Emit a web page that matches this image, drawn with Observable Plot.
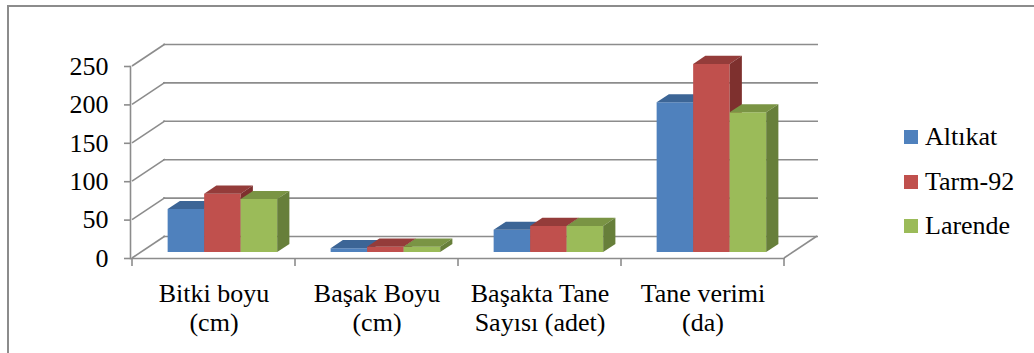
<!DOCTYPE html>
<html>
<head>
<meta charset="utf-8">
<script src="https://cdn.jsdelivr.net/npm/d3@7"></script>
<script src="https://cdn.jsdelivr.net/npm/@observablehq/plot@0.6"></script>
<style>
  html, body { margin: 0; padding: 0; background: #fff; width: 1034px; height: 353px; overflow: hidden; }
  #wrap { position: relative; width: 1034px; height: 353px; }
  #border { position: absolute; left: 7px; top: 5px; width: 2000px; height: 2000px;
            border-left: 2px solid #8c8c8c; border-top: 2px solid #8c8c8c; }
  #chart { position: absolute; left: 0; top: 0; }
  .legend { position: absolute; left: 904px; top: 0; font-family: "Liberation Serif", "Times New Roman", Times, "DejaVu Serif", serif;
            font-size: 26px; color: #000; }
  .legend .row { position: absolute; left: 0; height: 30px; display: flex; align-items: center; white-space: nowrap; }
  .legend .sw { width: 14px; height: 14px; margin-right: 7px; flex: none; }
</style>
</head>
<body>
<div id="wrap">
  <div id="border"></div>
  <div id="chart"></div>
  <div class="legend" id="legend"></div>
</div>
<script>
// ---- data ----
const categories = ["Bitki boyu\n(cm)", "Başak Boyu\n(cm)", "Başakta Tane\nSayısı (adet)", "Tane verimi\n(da)"];
const seriesNames = ["Altıkat", "Tarm-92", "Larende"];
const altikat = [56, 5, 29, 195];
const tarm92 = [76, 7, 34, 245];
const larende = [69, 7, 34, 182];
const yTicks = [0, 50, 100, 150, 200, 250];

// ---- styles ----
const palette = [
  {front: "#4F81BD", top: "#3C6596", side: "#385D8A"},
  {front: "#C0504D", top: "#943C3A", side: "#7E302E"},
  {front: "#9BBB59", top: "#7A9444", side: "#677F3A"}
];
const gridColor = "#8c8c8c";
const font = "'Liberation Serif', 'Times New Roman', Times, 'DejaVu Serif', serif";
const WALL_DX = 33, WALL_DY = 22;      // depth of the chart box
const BAR_F0 = 0.27, BAR_F1 = 0.64;    // bar depth (fraction of box depth)
const GROUP = 0.672;                    // fraction of band used by the bar group

const seriesValues = [altikat, tarm92, larende];
const bars = [];
categories.forEach((c, i) => seriesValues.forEach((vals, s) => bars.push({category: c, series: s, value: vals[i]})));

function depthMark(index, scales) {
  const {x, y} = scales;
  const g = d3.create("svg:g");
  const x0 = x(categories[0]);
  const bw = x(categories[1]) - x(categories[0]);
  const xEnd = x0 + bw * categories.length;
  const line = (a, b, c, d) => g.append("line").attr("x1", a).attr("y1", b).attr("x2", c).attr("y2", d)
    .attr("stroke", gridColor).attr("stroke-width", 1.6);
  // left wall diagonals
  for (const t of yTicks) line(x0, y(t), x0 + WALL_DX, y(t) - WALL_DY);
  // right floor diagonal
  line(xEnd, y(0), xEnd + WALL_DX, y(0) - WALL_DY);
  // category boundary ticks
  for (let i = 0; i <= categories.length; i++) line(x0 + i * bw, y(0), x0 + i * bw, y(0) + 8);
  // bars
  const fx0 = WALL_DX * BAR_F0, fy0 = WALL_DY * BAR_F0;
  const ddx = WALL_DX * (BAR_F1 - BAR_F0), ddy = WALL_DY * (BAR_F1 - BAR_F0);
  const barW = bw * GROUP / seriesNames.length;
  for (const b of bars) {
    const col = palette[b.series];
    const left = x(b.category) + bw * (1 - GROUP) / 2 + b.series * barW + fx0;
    const right = left + barW;
    const bottom = y(0) - fy0;
    const top = y(b.value) - fy0;
    const poly = (pts, fill) => g.append("polygon").attr("points", pts.map(p => p.join(",")).join(" ")).attr("fill", fill);
    poly([[left, bottom], [left, top], [right, top], [right, bottom]], col.front);
    poly([[left, top], [left + ddx, top - ddy], [right + ddx, top - ddy], [right, top]], col.top);
    poly([[right, top], [right + ddx, top - ddy], [right + ddx, bottom - ddy], [right, bottom]], col.side);
  }
  return g.node();
}

const chart = Plot.plot({
  width: 1034,
  height: 353,
  marginLeft: 130,
  marginRight: 249,
  marginTop: 66,
  marginBottom: 95,
  style: {fontFamily: font, background: "transparent", overflow: "visible"},
  x: {type: "band", domain: categories, padding: 0, axis: null},
  y: {domain: [0, 250], axis: null},
  marks: [
    Plot.ruleY(yTicks, {dx: WALL_DX, dy: -WALL_DY, stroke: gridColor, strokeWidth: 1.6}),
    Plot.frame({anchor: "left", stroke: gridColor, strokeWidth: 1.6}),
    Plot.ruleY([0], {stroke: gridColor, strokeWidth: 1.6}),
    Plot.axisY({ticks: yTicks, tickSize: 6, tickPadding: 16, stroke: gridColor, strokeWidth: 1.6, fill: "black",
                fontSize: 26, fontFamily: font, label: null}),
    depthMark,
    Plot.text(categories, {x: d => d, text: d => d, frameAnchor: "bottom", lineAnchor: "top", dy: 23,
                           fontSize: 26, fontFamily: font, lineHeight: 1.12, fill: "black"})
  ]
});
document.getElementById("chart").appendChild(chart);

// legend
const legend = document.getElementById("legend");
const rowCenters = [137, 182, 226];
seriesNames.forEach((name, i) => {
  const row = document.createElement("div");
  row.className = "row";
  row.style.top = (rowCenters[i] - 15) + "px";
  const sw = document.createElement("div");
  sw.className = "sw";
  sw.style.background = palette[i].front;
  const t = document.createElement("span");
  t.textContent = name;
  row.appendChild(sw); row.appendChild(t);
  legend.appendChild(row);
});
</script>
</body>
</html>
